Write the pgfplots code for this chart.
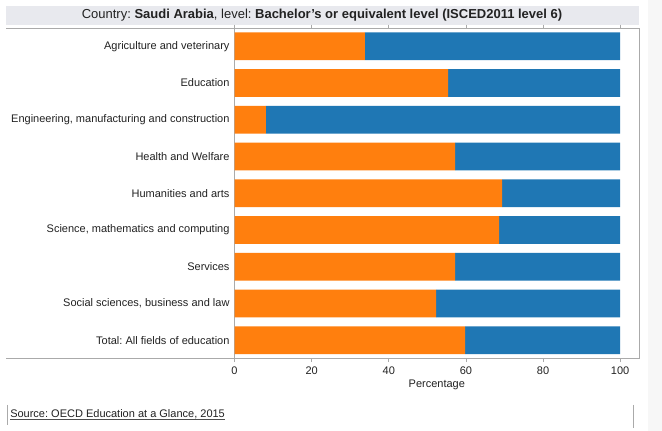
\documentclass[border=0pt]{standalone}
\usepackage{fontspec}
\setmainfont{Liberation Sans}
\usepackage{pgfplots}
\pgfplotsset{compat=1.18}
\usepackage{pgfplotstable}
\definecolor{cOrange}{HTML}{FF7F0E}
\definecolor{cBlue}{HTML}{1F77B4}
\definecolor{cText}{HTML}{222222}
\definecolor{cLine}{HTML}{AAAAAA}
\definecolor{cTitle}{HTML}{E8E9EE}
\definecolor{cSide}{HTML}{F7F7F7}
\pgfplotstableread{
y orange blue
0 33.8 66.2
1 55.4 44.6
2 8.1 91.9
3 57.2 42.8
4 69.4 30.6
5 68.6 31.4
6 57.2 42.8
7 52.3 47.7
8 59.8 40.2
}\datatable
\frenchspacing
\begin{document}
\frenchspacing
\begin{tikzpicture}
% background
\fill[white] (0pt,0pt) rectangle (496.5pt,-323.25pt);
\fill[cSide] (486pt,0pt) rectangle (496.5pt,-323.25pt);
% title bar
\fill[cTitle] (4.5pt,-4.5pt) rectangle (479.25pt,-18.75pt);
\node[text=cText,font=\fontsize{9.75pt}{11pt}\selectfont,anchor=center] at (241.5pt,-11.6pt)
  {Country: \textbf{Saudi Arabia}, level: \textbf{Bachelor’s or equivalent level (ISCED2011 level 6)}};
\begin{axis}[
  at={(175.9pt,-268.5pt)}, anchor=south west,
  scale only axis, width=303.4pt, height=247.1pt,
  xbar stacked, bar width=0.754,
  xmin=0, xmax=104.9, ymin=-0.48, ymax=8.48,
  y dir=reverse,
  axis line style={cLine, line width=0.6pt},
  xtick={0,20,40,60,80,100},
  ytick={0,...,8},
  yticklabels={Agriculture and veterinary, Education, {Engineering, manufacturing and construction}, Health and Welfare, Humanities and arts, {Science, mathematics and computing}, Services, {Social sciences, business and law}, Total: All fields of education},
  tick align=outside,
  x tick style={cLine, line width=0.6pt},
  major tick length=3pt,
  y tick style={draw=none},
  ticklabel style={text=cText, font=\fontsize{8.25pt}{10pt}\selectfont},
  /pgf/number format/assume math mode=true,
  xticklabel style={yshift=0pt},
  yticklabel style={xshift=2.75pt},
  xlabel={Percentage},
  xlabel style={text=cText, font=\fontsize{8.25pt}{10pt}\selectfont, yshift=3pt},
  clip=false,
]
\addplot[fill=cOrange, draw=none] table[x=orange, y=y] {\datatable};
\addplot[fill=cBlue, draw=none] table[x=blue, y=y] {\datatable};
\end{axis}
% extended frame lines
\draw[cLine, line width=0.6pt] (4.5pt,-21.4pt) -- (175.9pt,-21.4pt);
\draw[cLine, line width=0.6pt] (4.5pt,-268.5pt) -- (175.9pt,-268.5pt);
% source
\draw[cLine, line width=0.6pt] (5.25pt,-303.75pt) -- (5.25pt,-318.75pt);
\draw[cLine, line width=0.6pt] (474.75pt,-303.75pt) -- (474.75pt,-321pt);
\node[anchor=base west, text=cText, font=\fontsize{8.25pt}{10pt}\selectfont, inner sep=0pt] (src) at (7.5pt,-313.5pt) {Source: OECD Education at a Glance, 2015};
\draw[cText!80, line width=0.5pt] ([yshift=-1.3pt]src.base west) -- ([yshift=-1.3pt]src.base east);
\end{tikzpicture}
\end{document}
